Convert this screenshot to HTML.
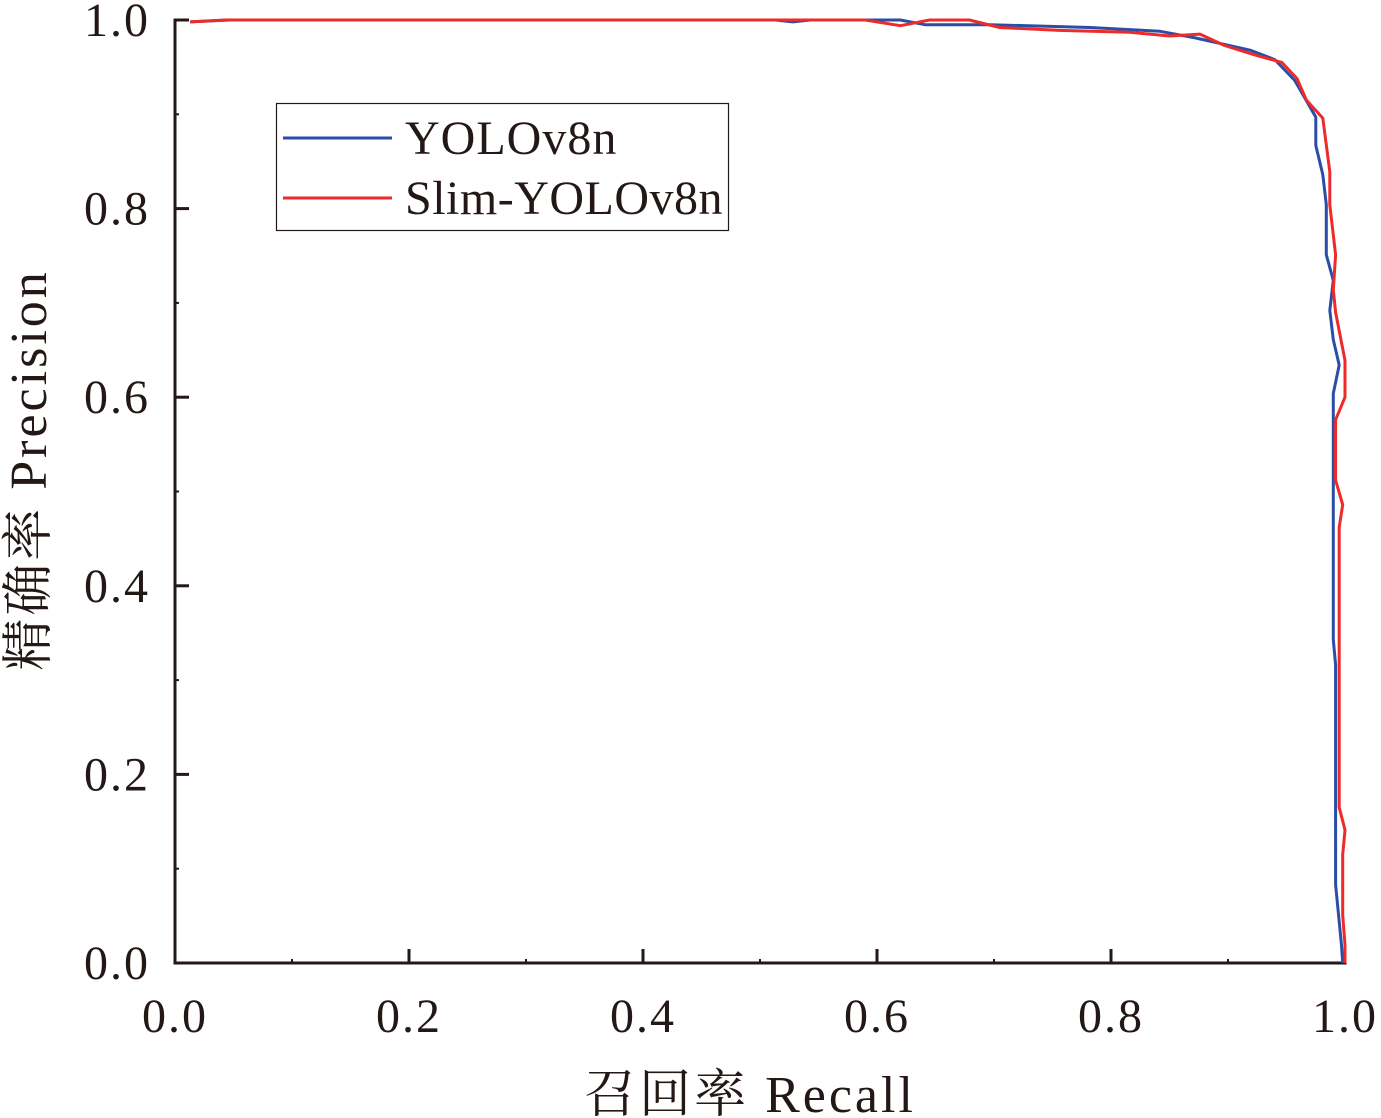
<!DOCTYPE html>
<html><head><meta charset="utf-8"><style>
body{margin:0;background:#fff}
svg{display:block}
text{font-family:"Liberation Serif","Noto Serif CJK SC",serif;fill:#231815}
</style></head><body>
<svg id="chart" width="1381" height="1118" viewBox="0 0 1381 1118" xmlns="http://www.w3.org/2000/svg">
<g id="axes"></g>
<g id="series"></g>
<g>
<rect x="276.5" y="103.5" width="452" height="127" fill="#fff" stroke="#231815" stroke-width="1.2"/>
<line x1="283" y1="138" x2="392" y2="138" stroke="#2a4ea6" stroke-width="3"/>
<text x="405" y="154" font-size="48" letter-spacing="1">YOLOv8n</text>
<line x1="283" y1="198" x2="392" y2="198" stroke="#ee2a2a" stroke-width="3"/>
<text x="405" y="214" font-size="48" letter-spacing="0.5">Slim-YOLOv8n</text>
</g>
<text x="750" y="1112" font-size="52" letter-spacing="3" text-anchor="middle">召回率 Recall</text>
<text transform="translate(46,470) rotate(-90)" font-size="52" letter-spacing="3" text-anchor="middle">精确率 Precision</text>
</svg>
<script>
const xTicks=["0.0","0.2","0.4","0.6","0.8","1.0"];
const yTicks=["0.0","0.2","0.4","0.6","0.8","1.0"];
const blueRecall=[0.013,0.047,0.513,0.528,0.543,0.620,0.641,0.697,0.782,0.842,0.872,0.919,0.940,0.957,0.975,0.975,0.981,0.984,0.984,0.990,0.987,0.990,0.995,0.990,0.990,0.992,0.992,0.997,0.998];
const bluePrecision=[0.998,1,1,0.998,1,1,0.995,0.995,0.992,0.988,0.981,0.968,0.958,0.936,0.897,0.867,0.836,0.804,0.751,0.724,0.692,0.661,0.634,0.604,0.343,0.316,0.083,0.019,0];
const redRecall=[0.013,0.043,0.590,0.620,0.645,0.679,0.705,0.756,0.816,0.850,0.876,0.897,0.923,0.946,0.959,0.967,0.981,0.987,0.987,0.992,0.990,0.992,1.0,1.0,0.992,0.992,0.998,0.995,0.995,1.0,0.998,0.998,1.0,1.0];
const redPrecision=[0.998,1,1,0.994,1,1,0.992,0.989,0.987,0.983,0.985,0.973,0.963,0.955,0.938,0.915,0.896,0.839,0.804,0.751,0.714,0.690,0.639,0.600,0.576,0.512,0.486,0.462,0.165,0.141,0.115,0.051,0.019,0];
const X0=175,X1=1345,Y0=963,Y1=20;
const sx=v=>X0+(X1-X0)*v, sy=v=>Y0-(Y0-Y1)*v;
const NS="http://www.w3.org/2000/svg";
function mk(tag,attrs,parent){const e=document.createElementNS(NS,tag);for(const k in attrs)e.setAttribute(k,attrs[k]);parent.appendChild(e);return e;}
const axes=document.getElementById('axes');
let a=mk('line',{x1:X0,y1:Y0+1.5,x2:X0,y2:Y1-1.5,stroke:'#231815','stroke-width':3},axes);


a=mk('line',{x1:X0-1.5,y1:Y0,x2:X1+1.5,y2:Y0,stroke:'#231815','stroke-width':3},axes);


xTicks.forEach((t,i)=>{const v=i/(xTicks.length-1);const x=sx(v);
 const l=mk('line',{x1:x,y1:Y0,x2:x,y2:Y0-14,stroke:'#231815','stroke-width':3},axes);
 
 
 const tx=mk('text',{x:x,y:1032,'font-size':48,'letter-spacing':2,'text-anchor':'middle'},axes);tx.textContent=t;
 
 
 if(i<xTicks.length-1){const m=mk('line',{x1:sx(v+0.1),y1:Y0,x2:sx(v+0.1),y2:Y0-4,stroke:'#231815','stroke-width':2},axes);
 
 }
});
yTicks.forEach((t,i)=>{const v=i/(yTicks.length-1);const y=sy(v);
 const l=mk('line',{x1:X0,y1:y,x2:X0+14,y2:y,stroke:'#231815','stroke-width':3},axes);
 
 
 const tx=mk('text',{x:150,y:y+16,'font-size':48,'letter-spacing':2,'text-anchor':'end'},axes);tx.textContent=t;
 
 
 if(i<yTicks.length-1){const m=mk('line',{x1:X0,y1:sy(v+0.1),x2:X0+4,y2:sy(v+0.1),stroke:'#231815','stroke-width':2},axes);
 
 }
});
const series=document.getElementById('series');
function pts(r,p){return r.map((v,i)=>sx(v).toFixed(1)+','+sy(p[i]).toFixed(1)).join(' ');}
const pb=mk('polyline',{points:pts(blueRecall,bluePrecision),fill:'none',stroke:'#2a4ea6','stroke-width':3,'stroke-linejoin':'round'},series);


const pr=mk('polyline',{points:pts(redRecall,redPrecision),fill:'none',stroke:'#ee2a2a','stroke-width':3,'stroke-linejoin':'round'},series);


</script>
</body></html>
